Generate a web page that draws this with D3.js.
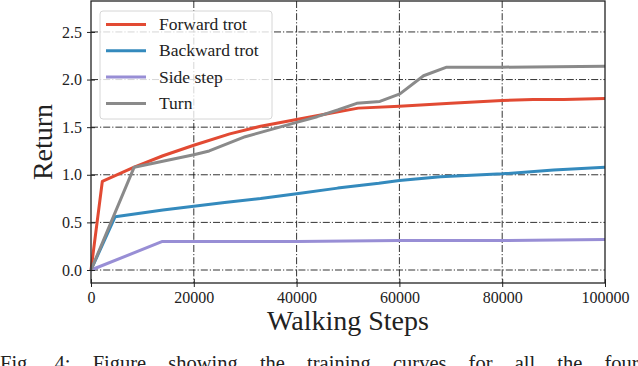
<!DOCTYPE html>
<html><head><meta charset="utf-8">
<script src="https://cdn.jsdelivr.net/npm/d3@7"></script>
<style>body{margin:0;background:#fff}svg{display:block}</style>
</head><body>
<svg id="c" width="638" height="366"></svg>
<script>
const seriesNames = ["Forward trot", "Backward trot", "Side step", "Turn"];
const seriesColors = ["#E24A33", "#348ABD", "#988ED5", "#8a8a8a"];
const forwardSteps = [0, 2200, 8400, 14000, 20000, 27000, 33000, 40000, 46000, 52000, 60000, 70000, 80000, 86000, 92000, 100000];
const forwardReturn = [0, 0.93, 1.08, 1.20, 1.31, 1.43, 1.51, 1.58, 1.64, 1.70, 1.72, 1.75, 1.78, 1.79, 1.79, 1.80];
const backwardSteps = [0, 4700, 14000, 20000, 26000, 33000, 40000, 48000, 56000, 60000, 68000, 80000, 90000, 100000];
const backwardReturn = [0, 0.56, 0.63, 0.67, 0.71, 0.75, 0.80, 0.86, 0.91, 0.94, 0.98, 1.01, 1.05, 1.08];
const sideSteps = [0, 13900, 40000, 60000, 80000, 100000];
const sideReturn = [0, 0.30, 0.30, 0.31, 0.31, 0.32];
const turnSteps = [0, 8400, 20000, 23000, 30000, 36000, 40000, 44000, 48000, 51700, 56200, 60100, 64700, 69200, 80000, 100000];
const turnReturn = [0, 1.08, 1.21, 1.25, 1.40, 1.49, 1.55, 1.61, 1.68, 1.75, 1.77, 1.85, 2.04, 2.13, 2.13, 2.14];
const xTicks = [0, 20000, 40000, 60000, 80000, 100000];
const yTicks = [0.0, 0.5, 1.0, 1.5, 2.0, 2.5];
const xLabel = "Walking Steps", yLabel = "Return";
const caption = "Fig. 4:  Figure showing the training curves for all the four";

const SERIF = "'Liberation Serif', 'Times New Roman', 'DejaVu Serif', serif";
const series = [
  {name: seriesNames[0], color: seriesColors[0], xs: forwardSteps, ys: forwardReturn},
  {name: seriesNames[1], color: seriesColors[1], xs: backwardSteps, ys: backwardReturn},
  {name: seriesNames[2], color: seriesColors[2], xs: sideSteps, ys: sideReturn},
  {name: seriesNames[3], color: seriesColors[3], xs: turnSteps, ys: turnReturn}
];

const L = 91, R = 605, T = 1, B = 283;
const svg = d3.select("#c");
const x = d3.scaleLinear().domain([0, 100000]).range([L, R]);
const y = d3.scaleLinear().domain([-0.1365, 2.825]).range([B, T]);

// grid
const grid = svg.append("g");
grid.selectAll(".gx").data(xTicks.slice(1, -1)).join("line")
  .attr("x1", d => x(d)).attr("x2", d => x(d)).attr("y1", T).attr("y2", B)
  .attr("stroke", "#111").attr("stroke-opacity", 0.85).attr("stroke-width", 1)
  .attr("stroke-dasharray", "7,2,1.2,2");
grid.selectAll(".gy").data(yTicks).join("line")
  .attr("x1", L).attr("x2", R).attr("y1", d => y(d)).attr("y2", d => y(d))
  .attr("stroke", "#111").attr("stroke-opacity", 0.85).attr("stroke-width", 1)
  .attr("stroke-dasharray", "7,2,1.2,2");

// lines
const line = d3.line().x(d => x(d[0])).y(d => y(d[1]));
svg.append("g").selectAll("path").data(series).join("path")
  .attr("d", s => line(s.xs.map((v, i) => [v, s.ys[i]])))
  .attr("fill", "none").attr("stroke", s => s.color).attr("stroke-width", 3)
  .attr("stroke-linejoin", "round");

// axes
const fmtY = d3.format(".1f");
const xAxis = d3.axisBottom(x).tickValues(xTicks).tickFormat(d => String(d)).tickSizeInner(4).tickSizeOuter(0).tickPadding(5);
const yAxis = d3.axisLeft(y).tickValues(yTicks).tickFormat(fmtY).tickSizeInner(4).tickSizeOuter(0).tickPadding(5);
const gx = svg.append("g").attr("transform", `translate(0,${B})`).call(xAxis);
const gy = svg.append("g").attr("transform", `translate(${L},0)`).call(yAxis);
[gx, gy].forEach(g => {
  g.attr("font-family", null);
  g.select(".domain").remove();
  g.selectAll("text").attr("font-size", 16).style("font-family", SERIF).style("fill", "#222");
  g.selectAll(".tick line").attr("stroke", "#222").attr("stroke-width", 1);
});
gx.selectAll(".tick").append("line").attr("y1", 0).attr("y2", -4).attr("stroke", "#222");
gy.selectAll(".tick").append("line").attr("x1", 0).attr("x2", 4).attr("stroke", "#222");

// frame
svg.append("rect").attr("x", L).attr("y", T).attr("width", R - L).attr("height", B - T)
  .attr("fill", "none").attr("stroke", "#222").attr("stroke-width", 1.3);

// legend
const lg = svg.append("g");
lg.append("rect").attr("x", 100).attr("y", 11).attr("width", 172).attr("height", 108).attr("rx", 3)
  .attr("fill", "#fff").attr("fill-opacity", 0.8).attr("stroke", "#d6d6d6").attr("stroke-width", 1);
series.forEach((s, i) => {
  const yy = 24.5 + i * 26.3;
  lg.append("line").attr("x1", 106).attr("x2", 146).attr("y1", yy).attr("y2", yy)
    .attr("stroke", s.color).attr("stroke-width", 3);
  lg.append("text").attr("x", 159).attr("y", yy + 5.5).attr("font-size", 17.5)
    .style("font-family", SERIF).style("fill", "#222").text(s.name);
});

// axis titles
svg.append("text").attr("x", (L + R) / 2).attr("y", 330).attr("text-anchor", "middle")
  .attr("font-size", 28).style("font-family", SERIF).style("fill", "#222").text(xLabel);
svg.append("text").attr("transform", `translate(52,${(T + B) / 2}) rotate(-90)`).attr("text-anchor", "middle")
  .attr("font-size", 28).style("font-family", SERIF).style("fill", "#222").text(yLabel);

// caption (partially visible, as in the reference)
svg.append("text").attr("x", 0).attr("y", 370).attr("font-size", 20.5)
  .style("font-family", SERIF).style("fill", "#222").style("word-spacing", "17px").text(caption);
</script>
</body></html>
